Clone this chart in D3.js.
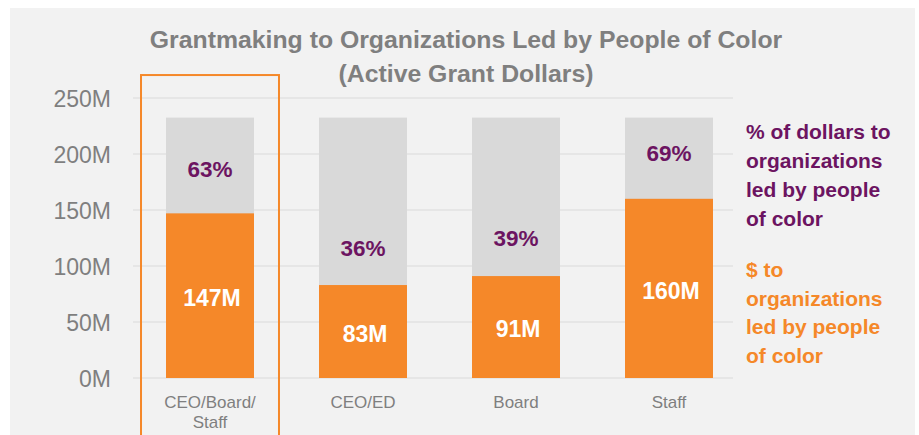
<!DOCTYPE html>
<html>
<head>
<meta charset="utf-8">
<script src="https://cdn.jsdelivr.net/npm/d3@7"></script>
<style>
html,body{margin:0;padding:0;background:#fff;}
svg{display:block;font-family:"Liberation Sans",Arial,sans-serif;}
</style>
</head>
<body>
<svg id="chart" width="919" height="435"></svg>
<script>
const categories = ["CEO/Board/Staff", "CEO/ED", "Board", "Staff"];
const categoryLines = [["CEO/Board/", "Staff"], ["CEO/ED"], ["Board"], ["Staff"]];
const totalDollars = [232.5, 232.5, 232.5, 232.5];
const pocDollars = [147, 83, 91, 160];
const pocPercent = ["63%", "36%", "39%", "69%"];
const yTicks = [0, 50, 100, 150, 200, 250];
const titleLines = ["Grantmaking to Organizations Led by People of Color", "(Active Grant Dollars)"];
const legendPct = ["% of dollars to", "organizations", "led by people", "of color"];
const legendDollars = ["$ to", "organizations", "led by people", "of color"];

const ORANGE = "#f58829", GRAY = "#d9d9d9", PURPLE = "#6c1461", TEXT = "#7f7f7f";

const svg = d3.select("#chart");
svg.append("rect").attr("x", 10).attr("y", 8).attr("width", 905).attr("height", 427).attr("fill", "#f2f2f2");

const x = d3.scaleBand().domain(categories).range([133.5, 745.5]).paddingInner(0.425).paddingOuter(0.2125);
const y = d3.scaleLinear().domain([0, 250]).range([378, 98]);

// grid
svg.append("g").selectAll("line").data(yTicks).join("line")
  .attr("x1", 133).attr("x2", 733)
  .attr("y1", d => y(d)).attr("y2", d => y(d))
  .attr("stroke", "#e6e6e6").attr("stroke-width", 2);

// y axis labels
const yAxis = d3.axisLeft(y).tickValues(yTicks).tickFormat(d => d + "M").tickSize(0).tickPadding(0);
const ya = svg.append("g").attr("transform", "translate(111,0)").call(yAxis);
ya.select(".domain").remove();
ya.selectAll("text").attr("fill", TEXT).attr("font-size", 23).attr("font-family", "Liberation Sans, Arial, sans-serif").attr("dy", "0.36em");

// bars
const bw = x.bandwidth();
svg.append("g").selectAll("rect").data(categories).join("rect")
  .attr("x", d => x(d)).attr("width", bw)
  .attr("y", (d, i) => y(totalDollars[i])).attr("height", (d, i) => y(0) - y(totalDollars[i]))
  .attr("fill", GRAY);
svg.append("g").selectAll("rect").data(categories).join("rect")
  .attr("x", d => x(d)).attr("width", bw)
  .attr("y", (d, i) => y(pocDollars[i])).attr("height", (d, i) => y(0) - y(pocDollars[i]))
  .attr("fill", ORANGE);

// value labels
svg.append("g").selectAll("text").data(categories).join("text")
  .attr("x", d => x(d) + bw / 2 + 2)
  .attr("y", (d, i) => (y(pocDollars[i]) + y(0)) / 2 + 2)
  .attr("dy", "0.36em").attr("text-anchor", "middle")
  .attr("fill", "#fff").attr("font-weight", "bold").attr("font-size", 23)
  .text((d, i) => pocDollars[i] + "M");
svg.append("g").selectAll("text").data(categories).join("text")
  .attr("x", d => x(d) + bw / 2)
  .attr("y", (d, i) => y(pocDollars[i] * 1.1) - 27.5)
  .attr("dy", "0.36em").attr("text-anchor", "middle")
  .attr("fill", PURPLE).attr("font-weight", "bold").attr("font-size", 22.5)
  .text((d, i) => pocPercent[i]);

// category labels
const cat = svg.append("g").selectAll("text").data(categories).join("text")
  .attr("x", d => x(d) + bw / 2).attr("y", 408)
  .attr("text-anchor", "middle").attr("fill", TEXT).attr("font-size", 17);
cat.selectAll("tspan").data((d, i) => categoryLines[i]).join("tspan")
  .attr("x", function() { return d3.select(this.parentNode).attr("x"); })
  .attr("dy", (d, i) => i === 0 ? 0 : 20)
  .text(d => d);

// highlight box
svg.append("rect")
  .attr("x", x(categories[0]) - 25).attr("y", y(270.5))
  .attr("width", bw + 50).attr("height", 400)
  .attr("fill", "none").attr("stroke", ORANGE).attr("stroke-width", 2);

// title
svg.append("g").selectAll("text").data(titleLines).join("text")
  .attr("x", 466).attr("y", (d, i) => 48 + i * 34)
  .attr("text-anchor", "middle").attr("fill", TEXT)
  .attr("font-weight", "bold").attr("font-size", 24.8)
  .text(d => d);

// legend
svg.append("g").selectAll("text").data(legendPct).join("text")
  .attr("x", 746).attr("y", (d, i) => 139 + i * 29)
  .attr("fill", PURPLE).attr("font-weight", "bold").attr("font-size", 21)
  .text(d => d);
svg.append("g").selectAll("text").data(legendDollars).join("text")
  .attr("x", 746).attr("y", (d, i) => 277 + i * 28.7)
  .attr("fill", ORANGE).attr("font-weight", "bold").attr("font-size", 21)
  .text(d => d);
</script>
</body>
</html>
